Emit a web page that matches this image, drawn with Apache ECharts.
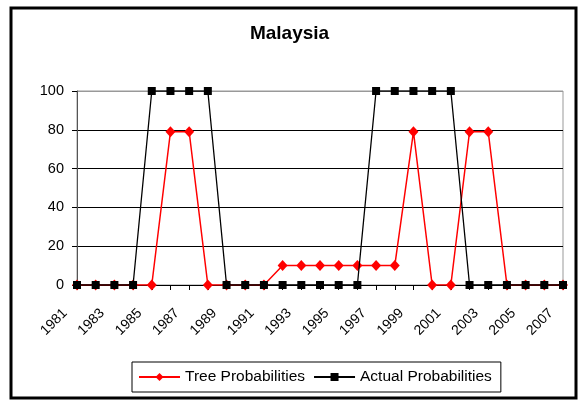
<!DOCTYPE html>
<html>
<head>
<meta charset="utf-8">
<script src="https://cdn.jsdelivr.net/npm/echarts@6/dist/echarts.min.js"></script>
<style>
html,body{margin:0;padding:0;background:#fff;}
#chart{width:579px;height:401px;}
</style>
</head>
<body>
<div id="chart"></div>
<script>
var years = ['1981','1982','1983','1984','1985','1986','1987','1988','1989','1990','1991','1992','1993','1994','1995','1996','1997','1998','1999','2000','2001','2002','2003','2004','2005','2006','2007'];
var treeProbabilities = [0,0,0,0,0,79,79,0,0,0,0,10,10,10,10,10,10,10,79,0,0,79,79,0,0,0,0];
var actualProbabilities = [0,0,0,0,100,100,100,100,0,0,0,0,0,0,0,0,100,100,100,100,100,0,0,0,0,0,0];
var yTicks = [0,20,40,60,80,100];

var FONT = '"Liberation Sans", Arial, sans-serif';
var chart = echarts.init(document.getElementById('chart'), null, {renderer:'canvas'});
chart.setOption({
  animation: false,
  backgroundColor: '#fff',
  title: {
    text: 'Malaysia',
    left: 'center',
    top: 19,
    textStyle: {fontFamily: FONT, fontSize: 19, fontWeight: 'bold', color: '#000'}
  },
  graphic: [{
    type: 'rect',
    shape: {x: 11, y: 8, width: 565, height: 390},
    style: {fill: 'none', stroke: '#000', lineWidth: 3},
    silent: true, z: 100
  }],
  grid: {
    left: 77, right: 16, top: 91, bottom: 116,
    show: true, borderColor: '#999', borderWidth: 1, containLabel: false
  },
  legend: {
    left: 132, top: 362,
    padding: [7, 9, 7, 6],
    borderColor: '#000', borderWidth: 1,
    itemWidth: 41, itemHeight: 10, itemGap: 8,
    textStyle: {fontFamily: FONT, fontSize: 15.5, color: '#000'},
    data: ['Tree Probabilities', 'Actual Probabilities']
  },
  xAxis: {
    type: 'category',
    data: years,
    boundaryGap: false,
    axisLine: {lineStyle: {color: '#000', width: 1}},
    axisTick: {show: true, interval: 0, length: 5, lineStyle: {color: '#000'}},
    axisLabel: {
      interval: 1, rotate: 45, margin: 14,
      padding: [0, 17, 0, 0],
      fontFamily: FONT, fontSize: 14, color: '#000'
    },
    splitLine: {show: false}
  },
  yAxis: {
    type: 'value',
    min: yTicks[0], max: yTicks[yTicks.length-1], interval: 20,
    axisLine: {show: true, lineStyle: {color: '#555', width: 1}},
    axisTick: {show: true, length: 5, lineStyle: {color: '#000'}},
    axisLabel: {margin: 13, fontFamily: FONT, fontSize: 14.5, color: '#000'},
    splitLine: {show: true, lineStyle: {color: ['#000','#000','#000','#000','#000','#999'], width: 1}}
  },
  series: [
    {
      name: 'Tree Probabilities',
      type: 'line',
      data: treeProbabilities,
      symbol: 'diamond', symbolSize: [10, 11],
      lineStyle: {color: '#ff0000', width: 1.5},
      itemStyle: {color: '#ff0000'},
      z: 3
    },
    {
      name: 'Actual Probabilities',
      type: 'line',
      data: actualProbabilities,
      symbol: 'rect', symbolSize: 8,
      lineStyle: {color: '#000', width: 1.3},
      itemStyle: {color: '#000'},
      z: 4
    }
  ]
});
</script>
</body>
</html>
